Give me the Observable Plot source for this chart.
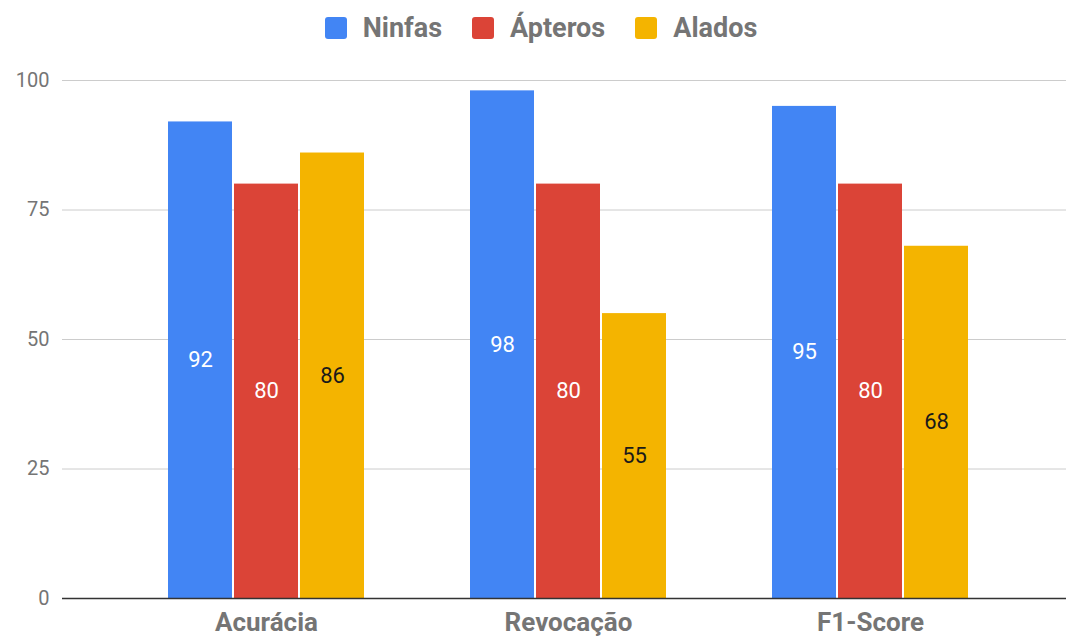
<!DOCTYPE html>
<html>
<head>
<meta charset="utf-8">
<script src="https://cdn.jsdelivr.net/npm/d3@7"></script>
<script src="https://cdn.jsdelivr.net/npm/@observablehq/plot@0.6"></script>
<style>
  html, body { margin: 0; padding: 0; background: #fff; }
  body { width: 1068px; height: 639px; overflow: hidden; font-family: Roboto, "Noto Sans", sans-serif; }
  #legend { height: 55px; display: flex; justify-content: center; align-items: center; padding-left: 14px; box-sizing: border-box; }
  .item { display: flex; align-items: center; margin: 0 15px; font-weight: bold; font-size: 27px; color: #757575; }
  .sw { width: 22px; height: 22px; border-radius: 3px; margin-right: 16px; }
  #chart { position: relative; width: 1068px; height: 584px; }
  #chart svg { display: block; position: absolute; left: 0; top: 0; }
</style>
</head>
<body>
<div id="legend"></div>
<div id="chart"></div>
<script>
// Metrics (x groups) and classes (bars within each group)
const metrics = ["Acurácia", "Revocação", "F1-Score"];
const classes = ["Ninfas", "Ápteros", "Alados"];
const colors = ["#4285F4", "#DB4437", "#F4B400"];
const labelColors = ["#ffffff", "#ffffff", "#1a1a1a"];

// Scores (%) per class, in metric order
const ninfas = [92, 98, 95];
const apteros = [80, 80, 80];
const alados = [86, 55, 68];

const yTicks = [0, 25, 50, 75, 100];

const seriesValues = [ninfas, apteros, alados];
const rows = [];
metrics.forEach((m, i) => {
  classes.forEach((c, j) => rows.push({metric: m, cls: c, value: seriesValues[j][i]}));
});

// Legend
const legend = document.getElementById("legend");
classes.forEach((c, j) => {
  const item = document.createElement("div");
  item.className = "item";
  const sw = document.createElement("div");
  sw.className = "sw";
  sw.style.background = colors[j];
  item.appendChild(sw);
  item.appendChild(document.createTextNode(c));
  legend.appendChild(item);
});

// Shared frame for all layers
const frame = {
  width: 1068,
  height: 584,
  marginTop: 25,
  marginBottom: 41,
  marginLeft: 62,
  marginRight: 2,
  style: {fontFamily: "Roboto, sans-serif", background: "transparent"}
};
const groupRange = [115, 1021];

// Background layer: gridlines, y tick labels, metric labels
const back = Plot.plot({
  ...frame,
  x: {type: "band", domain: metrics, range: groupRange, padding: 0, axis: null},
  y: {domain: [0, 100], axis: null},
  marks: [
    Plot.ruleY(yTicks.filter(d => d > 0), {stroke: "#cccccc", strokeWidth: 1}),
    Plot.text(yTicks, {y: d => d, text: d => String(d), frameAnchor: "left", textAnchor: "end", dx: -13, fontSize: 20, fill: "#757575"}),
    Plot.text(metrics, {x: d => d, frameAnchor: "bottom", lineAnchor: "middle", dy: 24, text: d => d, fontSize: 26, fontWeight: "bold", fill: "#757575"})
  ]
});

// Foreground layer: grouped bars with value labels
const front = Plot.plot({
  ...frame,
  fx: {domain: metrics, range: groupRange, padding: 0, label: null, axis: null},
  x: {domain: classes, paddingInner: 0.03, paddingOuter: 0.8, axis: null},
  y: {domain: [0, 100], axis: null},
  marks: [
    Plot.barY(rows, {fx: "metric", x: "cls", y: "value", fill: d => colors[classes.indexOf(d.cls)]}),
    Plot.text(rows, {fx: "metric", x: "cls", y: d => d.value / 2, text: d => String(d.value), fontSize: 22,
      fill: d => labelColors[classes.indexOf(d.cls)]})
  ]
});

// Zero baseline on top
const base = Plot.plot({
  ...frame,
  y: {domain: [0, 100], axis: null},
  marks: [Plot.ruleY([0], {stroke: "#333333", strokeWidth: 1.5})]
});

const chart = document.getElementById("chart");
chart.appendChild(back);
chart.appendChild(front);
chart.appendChild(base);
</script>
</body>
</html>
